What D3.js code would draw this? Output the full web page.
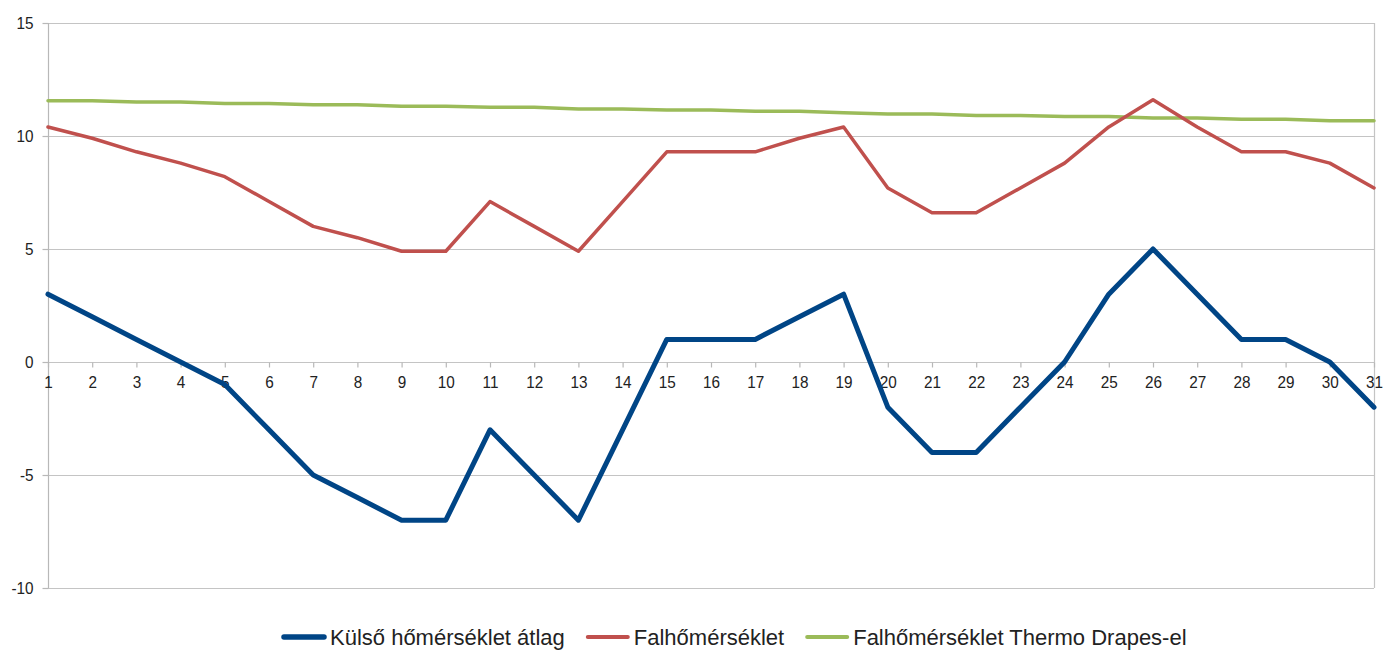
<!DOCTYPE html>
<html>
<head>
<meta charset="utf-8">
<script src="https://cdn.jsdelivr.net/npm/d3@7"></script>
<style>
  body { margin: 0; background: #fff; }
  text { font-family: "Liberation Sans", Arial, sans-serif; fill: #222; }
</style>
</head>
<body>
<svg id="chart" width="1384" height="651"></svg>
<script>
// days of the month
var days = d3.range(1, 32);
var yTicks = [-10, -5, 0, 5, 10, 15];

// outside temperature average
var kulso = [3, 2, 1, 0, -1, -3, -5, -6, -7, -7, -3, -5, -7, -3, 1, 1, 1, 2, 3, -2, -4, -4, -2, 0, 3, 5, 3, 1, 1, 0, -2];
// wall temperature
var fal = [10.4, 9.9, 9.3, 8.8, 8.2, 7.1, 6.0, 5.5, 4.9, 4.9, 7.1, 6.0, 4.9, 7.1, 9.3, 9.3, 9.3, 9.9, 10.4, 7.7, 6.6, 6.6, 7.7, 8.8, 10.4, 11.6, 10.4, 9.3, 9.3, 8.8, 7.7];
// wall temperature with Thermo Drapes
var falThermo = [11.56, 11.56, 11.5, 11.5, 11.44, 11.44, 11.38, 11.38, 11.32, 11.32, 11.27, 11.27, 11.2, 11.2, 11.15, 11.15, 11.09, 11.09, 11.03, 10.97, 10.97, 10.91, 10.91, 10.86, 10.86, 10.8, 10.8, 10.74, 10.74, 10.68, 10.68];

var series = [
    {name: "Külső hőmérséklet átlag", values: kulso, color: "#004586", width: 5},
    {name: "Falhőmérséklet", values: fal, color: "#c0504d", width: 3.5},
    {name: "Falhőmérséklet Thermo Drapes-el", values: falThermo, color: "#9bbb59", width: 3.5}
];

var svg = d3.select("#chart");
var pLeft = 48, pRight = 1374, pTop = 23, pBottom = 588;
var sx = 0.9; // tick labels look a bit squeezed

var x = d3.scaleLinear().domain([1, 31]).range([pLeft, pRight]);
var y = d3.scaleLinear().domain([-10, 15]).range([pBottom, pTop]);

// gridlines
svg.append("g").selectAll("line").data(yTicks).enter().append("line")
    .attr("x1", pLeft).attr("x2", pRight)
    .attr("y1", function(d){ return y(d) + 0.5; }).attr("y2", function(d){ return y(d) + 0.5; })
    .style("stroke", "#c4c4c4").style("stroke-width", 1.2);

// right border
svg.append("line").attr("x1", pRight + 0.5).attr("x2", pRight + 0.5).attr("y1", pTop).attr("y2", pBottom)
    .style("stroke", "#c4c4c4").style("stroke-width", 1.2);

// y axis
var yAxis = d3.axisLeft(y).tickValues(yTicks).tickSize(6).tickPadding(9).tickFormat(function(d){ return String(d); });
var gy = svg.append("g").attr("transform", "translate(" + (pLeft + 0.5) + ",0)").call(yAxis);
gy.select(".domain").attr("d", "M0," + pTop + "V" + pBottom);
gy.selectAll("line, .domain").style("stroke", "#b8b8b8").style("stroke-width", 1.2);
gy.selectAll("text").style("font-size", "17px")
    .attr("transform", "scale(" + sx + ",1)")
    .attr("x", -15 / sx);

// x axis on zero line
var xAxis = d3.axisBottom(x).tickValues(days).tickSize(5).tickPadding(8).tickSizeOuter(0);
var gx = svg.append("g").attr("transform", "translate(0," + (y(0) + 0.5) + ")").call(xAxis);
gx.select(".domain").remove();
gx.selectAll("line").style("stroke", "#b8b8b8").style("stroke-width", 1.2);
gx.selectAll("text").style("font-size", "17px").attr("transform", "scale(" + sx + ",1)");

// lines
var line = d3.line()
    .x(function(d, i){ return x(days[i]); })
    .y(function(d){ return y(d); });

svg.append("g").selectAll("path").data(series.slice().reverse()).enter().append("path")
    .attr("d", function(d){ return line(d.values); })
    .style("fill", "none")
    .style("stroke", function(d){ return d.color; })
    .style("stroke-width", function(d){ return d.width; })
    .style("stroke-linejoin", "round")
    .style("stroke-linecap", "round");

// legend
var lx = 284, ly = 637;
series.forEach(function(s){
    svg.append("line").attr("x1", lx).attr("x2", lx + 40).attr("y1", ly).attr("y2", ly)
        .style("stroke", s.color).style("stroke-width", s.width + 0.5).style("stroke-linecap", "round");
    var t = svg.append("text").text(s.name)
        .attr("x", lx + 46).attr("y", ly + 8)
        .style("font-size", "22px");
    var w = t.node().getComputedTextLength();
    lx += 46 + w + 23;
});
</script>
</body>
</html>
